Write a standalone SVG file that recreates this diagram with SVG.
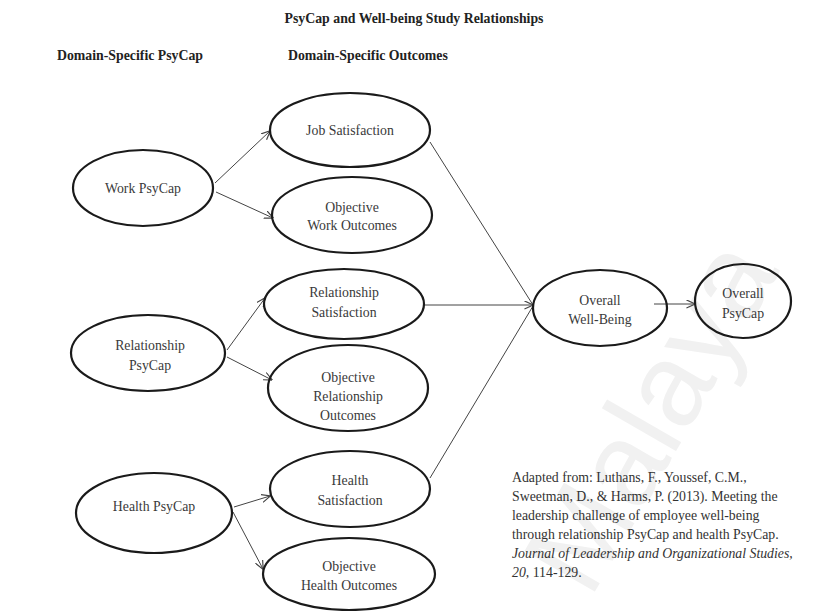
<svg xmlns="http://www.w3.org/2000/svg" width="833" height="611" viewBox="0 0 833 611">
  <defs>
    <style>
      .node ellipse { fill: none; stroke: #1a1a1a; stroke-width: 2.2; }
      .node text { font-family: "Liberation Serif", "Times New Roman", serif; font-size: 13.8px; fill: #3a3a3a; text-anchor: middle; }
      .head { font-family: "Liberation Serif", "Times New Roman", serif; font-weight: bold; font-size: 13.8px; fill: #222; }
      .edge { stroke: #444; stroke-width: 1; fill: none; }
      .note { font-family: "Liberation Serif", "Times New Roman", serif; font-size: 13.8px; fill: #333; }
      .mark { font-family: "Liberation Sans", Arial, sans-serif; font-size: 118px; fill: #f1f1f1; }
    </style>
    <marker id="arrow" viewBox="0 0 10 10" refX="9.5" refY="5" markerWidth="9" markerHeight="9" markerUnits="userSpaceOnUse" orient="auto">
      <path d="M0,0.5 L10,5 L0,9.5" fill="none" stroke="#444" stroke-width="1.3"/>
    </marker>
  </defs>

  <rect width="833" height="611" fill="#ffffff"/>
  <text class="mark" transform="translate(590,600) rotate(-60)">Malaya</text>

  <!-- headings -->
  <text class="head" x="414" y="23" text-anchor="middle">PsyCap and Well-being Study Relationships</text>
  <text class="head" x="57" y="60">Domain-Specific PsyCap</text>
  <text class="head" x="288" y="60">Domain-Specific Outcomes</text>

  <!-- connectors -->
  <g id="connectors">
    <line class="edge" x1="215" y1="183" x2="270" y2="131" marker-end="url(#arrow)"/>
    <line class="edge" x1="216" y1="192" x2="273" y2="218" marker-end="url(#arrow)"/>
    <line class="edge" x1="227" y1="350" x2="265" y2="298" marker-end="url(#arrow)"/>
    <line class="edge" x1="227" y1="357" x2="272" y2="380" marker-end="url(#arrow)"/>
    <line class="edge" x1="234" y1="507" x2="270" y2="496" marker-end="url(#arrow)"/>
    <line class="edge" x1="233" y1="512" x2="263" y2="569" marker-end="url(#arrow)"/>
    <line class="edge" x1="430" y1="142" x2="533" y2="305"/>
    <line class="edge" x1="423" y1="305" x2="533" y2="305" marker-end="url(#arrow)"/>
    <line class="edge" x1="430" y1="478" x2="533" y2="306"/>
    <line class="edge" x1="654" y1="304" x2="695" y2="304" marker-end="url(#arrow)"/>
  </g>

  <!-- nodes -->
  <g id="work-psycap" class="node">
    <ellipse cx="143" cy="188" rx="70" ry="38"/>
    <text x="143" y="193">Work PsyCap</text>
  </g>
  <g id="job-satisfaction" class="node">
    <ellipse cx="350" cy="130" rx="80" ry="37"/>
    <text x="350" y="135">Job Satisfaction</text>
  </g>
  <g id="objective-work-outcomes" class="node">
    <ellipse cx="352" cy="215" rx="80" ry="38"/>
    <text x="352" y="212">Objective</text>
    <text x="352" y="230">Work Outcomes</text>
  </g>
  <g id="relationship-psycap" class="node">
    <ellipse cx="148" cy="353" rx="77" ry="38"/>
    <text x="150" y="350">Relationship</text>
    <text x="150" y="370">PsyCap</text>
  </g>
  <g id="relationship-satisfaction" class="node">
    <ellipse cx="344" cy="304" rx="80" ry="35"/>
    <text x="344" y="297">Relationship</text>
    <text x="344" y="317">Satisfaction</text>
  </g>
  <g id="objective-relationship-outcomes" class="node">
    <ellipse cx="348" cy="388" rx="80" ry="43"/>
    <text x="348" y="382">Objective</text>
    <text x="348" y="401">Relationship</text>
    <text x="348" y="420">Outcomes</text>
  </g>
  <g id="health-psycap" class="node">
    <ellipse cx="154" cy="513" rx="78" ry="40"/>
    <text x="154" y="511">Health PsyCap</text>
  </g>
  <g id="health-satisfaction" class="node">
    <ellipse cx="350" cy="489" rx="80" ry="38"/>
    <text x="350" y="485">Health</text>
    <text x="350" y="505">Satisfaction</text>
  </g>
  <g id="objective-health-outcomes" class="node">
    <ellipse cx="349" cy="574" rx="86" ry="36"/>
    <text x="349" y="571">Objective</text>
    <text x="349" y="590">Health Outcomes</text>
  </g>
  <g id="overall-well-being" class="node">
    <ellipse cx="600" cy="308" rx="67" ry="38"/>
    <text x="600" y="305">Overall</text>
    <text x="600" y="324">Well-Being</text>
  </g>
  <g id="overall-psycap" class="node">
    <ellipse cx="743" cy="301" rx="48" ry="37"/>
    <text x="743" y="298">Overall</text>
    <text x="743" y="318">PsyCap</text>
  </g>

  <!-- source note -->
  <g id="source-note" class="note">
    <text x="512" y="482">Adapted from: Luthans, F., Youssef, C.M.,</text>
    <text x="512" y="501">Sweetman, D., &amp; Harms, P. (2013). Meeting the</text>
    <text x="512" y="520">leadership challenge of employee well-being</text>
    <text x="512" y="539">through relationship PsyCap and health PsyCap.</text>
    <text x="512" y="558" font-style="italic">Journal of Leadership and Organizational Studies,</text>
    <text x="512" y="577"><tspan font-style="italic">20,</tspan> 114-129.</text>
  </g>
</svg>
